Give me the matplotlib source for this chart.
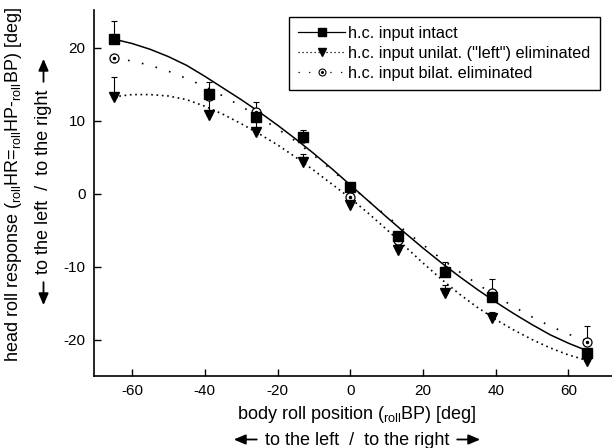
import matplotlib
matplotlib.use("Agg")
import matplotlib.pyplot as plt
from matplotlib.lines import Line2D
from matplotlib.legend_handler import HandlerTuple

plt.rcParams['font.family'] = ['Liberation Sans', 'DejaVu Sans']
plt.rcParams['mathtext.fontset'] = 'custom'
plt.rcParams['mathtext.rm'] = 'Liberation Sans'
plt.rcParams['mathtext.it'] = 'Liberation Sans'
plt.rcParams['axes.unicode_minus'] = False

# measured points
body_pos = [-65, -39, -26, -13, 0, 13, 26, 39, 65]
intact = [21.2, 13.7, 10.5, 7.8, 0.9, -5.8, -10.8, -14.1, -21.8]
intact_err = [2.5, 1.6, 1.0, 1.0, 0.4, 0.6, 1.5, 0.5, 0.5]
unilat = [13.3, 10.8, 8.5, 4.4, -1.5, -7.7, -13.6, -17.1, -22.9]
unilat_err = [2.7, 2.0, 1.8, 1.0, 0.4, 0.8, 1.1, 0.9, 0.8]
bilat = [18.6, 13.4, 11.2, 7.6, -0.5, -6.3, -10.6, -13.6, -20.4]
bilat_err = [0.3, 0.8, 1.4, 0.5, 0.4, 0.5, 0.5, 1.9, 2.2]

# fitted curves
fit_x = [-65, -60, -55, -50, -45, -40, -35, -30, -25, -20, -15, -10, -5, 0,
         5, 10, 15, 20, 25, 30, 35, 40, 45, 50, 55, 60, 65]
fit_intact = [21.2, 20.6, 19.8, 18.8, 17.6, 16.1, 14.5, 12.9, 11.2, 9.4, 7.5, 5.5, 3.4, 1.2,
              -1.0, -3.2, -5.35, -7.45, -9.45, -11.35, -13.15, -14.85, -16.45, -17.95,
              -19.35, -20.5, -21.5]
fit_unilat = [13.3, 13.6, 13.6, 13.4, 12.9, 12.0, 10.9, 9.6, 8.2, 6.7, 5.0, 3.2, 1.3, -0.6,
              -2.7, -4.9, -7.2, -9.5, -11.7, -13.75, -15.6, -17.25, -18.7, -20.0, -21.15,
              -22.1, -22.85]
fit_bilat = [18.6, 18.2, 17.6, 16.8, 15.8, 14.7, 13.4, 12.0, 10.5, 8.9, 7.2, 5.25, 3.2, 1.1,
             -1.0, -3.05, -5.05, -7.0, -8.9, -10.7, -12.4, -14.0, -15.5, -16.9, -18.15,
             -19.25, -20.2]

labels = ['h.c. input intact', 'h.c. input unilat. ("left") eliminated',
          'h.c. input bilat. eliminated']

W, H = 612, 448
fig = plt.figure(figsize=(W / 100, H / 100), dpi=100)
ax = fig.add_axes([94 / W, 1 - 376 / H, 1 - 94 / W, (376 - 10) / H])

lw = 0.9
ls_uni = (0, (1, 2.2))
ls_bi = (0, (1, 7.5))

ax.plot(fit_x, fit_intact, color='black', lw=lw + 0.2, ls='-')
ax.plot(fit_x, fit_unilat, color='black', lw=lw + 0.3, ls=ls_uni)
ax.plot(fit_x, fit_bilat, color='black', lw=lw + 0.3, ls=ls_bi)

zeros = [0] * len(body_pos)
ekw = dict(fmt='none', ecolor='black', elinewidth=0.8, capsize=2, capthick=0.8)
ax.errorbar(body_pos, intact, yerr=[zeros, intact_err], **ekw)
ax.errorbar(body_pos, unilat, yerr=[zeros, unilat_err], **ekw)
ax.errorbar(body_pos, bilat, yerr=[zeros, bilat_err], **ekw)

ax.plot(body_pos, bilat, ls='none', marker='o', ms=6.5, mfc='white', mec='black', mew=0.9)
ax.plot(body_pos, bilat, ls='none', marker='o', ms=1.5, color='black')
ax.plot(body_pos, unilat, ls='none', marker='v', ms=7.5, color='black')
ax.plot(body_pos, intact, ls='none', marker='s', ms=7, color='black')

ax.set_xlim(-70.5, 72)
ax.set_ylim(-25, 25.2)
ax.set_xticks([-60, -40, -20, 0, 20, 40, 60])
ax.set_yticks([-20, -10, 0, 10, 20])
ax.tick_params(direction='in', length=5, width=1, labelsize=11, pad=6)
ax.spines['top'].set_visible(False)
ax.spines['right'].set_visible(False)
for s in ['left', 'bottom']:
    ax.spines[s].set_linewidth(1.2)

fs = 13
fig.text(357 / W, 1 - 414 / H, 'body roll position ($_{\\rm roll}$BP) [deg]',
         fontsize=fs, ha='center', va='center')
fig.text(14 / W, 1 - 185 / H,
         'head roll response ($_{\\rm roll}$HR=$_{\\rm roll}$HP-$_{\\rm roll}$BP) [deg]',
         fontsize=fs, ha='center', va='center', rotation=90)

aprops = dict(arrowstyle='-|>,head_length=0.7,head_width=0.3', lw=1.3, color='black',
              shrinkA=0, shrinkB=0, mutation_scale=10)


def arrow(tail, head):
    fig.add_artist(plt.Annotation('', xy=head, xytext=tail, xycoords='figure pixels',
                                  textcoords='figure pixels', arrowprops=aprops))


def direction_line(x, y, rot):
    # text in the middle, arrows on both ends
    t = fig.text(x / W, 1 - y / H, 'to the left  /  to the right', fontsize=fs,
                 ha='center', va='center', rotation=rot)
    fig.canvas.draw()
    bb = t.get_window_extent()
    gap, length = 8, 23
    if rot == 0:
        yc = (bb.y0 + bb.y1) / 2 + 0.5
        arrow((bb.x0 - gap, yc), (bb.x0 - gap - length, yc))
        arrow((bb.x1 + gap, yc), (bb.x1 + gap + length, yc))
    else:
        xc = (bb.x0 + bb.x1) / 2 - 0.5
        arrow((xc, bb.y0 - gap), (xc, bb.y0 - gap - length))
        arrow((xc, bb.y1 + gap), (xc, bb.y1 + gap + length))


direction_line(357, 440, 0)
direction_line(44, 182, 90)

h1 = Line2D([], [], color='black', lw=lw, ls='-', marker='s', ms=6)
h2 = Line2D([], [], color='black', lw=lw, ls=ls_uni, marker='v', ms=6)
h3a = Line2D([], [], color='black', lw=lw, ls=ls_bi, marker='o', ms=5, mfc='white', mew=0.8)
h3b = Line2D([], [], color='black', ls='none', marker='o', ms=1.2)
leg = ax.legend([h1, h2, (h3a, h3b)], labels, loc='upper right',
                bbox_to_anchor=(0.976, 0.981), fontsize=11.7, handlelength=2.9,
                fancybox=False, edgecolor='black', framealpha=1,
                handler_map={tuple: HandlerTuple(ndivide=1)},
                borderpad=0.55, labelspacing=0.3, handletextpad=0.2, borderaxespad=0)
leg.get_frame().set_linewidth(1.0)

fig.savefig('out.png', dpi=100)
